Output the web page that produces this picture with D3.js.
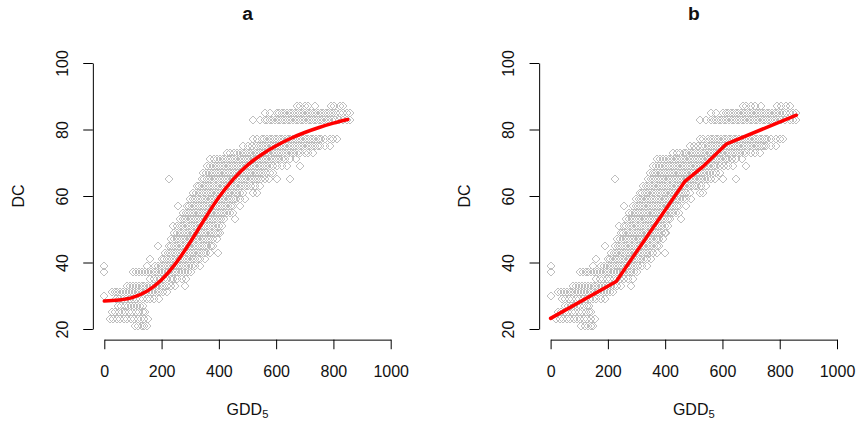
<!DOCTYPE html>
<html>
<head>
<meta charset="utf-8">
<style>
body { margin: 0; background: #fff; }
svg { display: block; font-family: "Liberation Sans", Arial, sans-serif; }
</style>
<script src="https://cdn.jsdelivr.net/npm/d3@7"></script>
</head>
<body>
<svg id="chart" width="859" height="425"></svg>
<script>
// observed DC stages, and the GDD5 values of the observations at each stage
var dcLevels = [87, 85, 83, 77, 75, 73, 71, 69, 67, 65, 63, 61, 59, 57, 55, 53, 51, 49,
                47, 45, 43, 41, 39, 37, 35, 33, 31, 30, 29, 27, 25, 23, 21];
var gddAtLevel = [
  [673, 683, 701, 712, 736, 790, 803, 823, 835],
  [561, 578, 602, 611, 620, 629, 638, 647, 656, 665, 674, 683, 692, 701, 710, 719, 728, 737, 746, 755, 764, 773, 782, 791, 800, 810, 822, 835, 846, 858],
  [520, 544, 560, 569, 578, 587, 596, 605, 614, 623, 632, 641, 650, 659, 668, 677, 686, 695, 704, 713, 722, 731, 740, 749, 758, 767, 776, 785, 795, 806, 820, 835, 848, 858],
  [520, 532, 550, 559, 568, 577, 586, 595, 604, 613, 622, 631, 640, 649, 658, 667, 676, 685, 694, 703, 712, 721, 730, 739, 748, 757, 771, 788, 800, 811],
  [486, 500, 515, 530, 539, 548, 557, 566, 575, 584, 593, 602, 611, 620, 629, 638, 647, 656, 665, 674, 683, 692, 701, 710, 719, 728, 737, 746, 753, 770, 788],
  [427, 440, 452, 465, 474, 483, 492, 501, 510, 519, 528, 537, 546, 555, 564, 573, 582, 591, 600, 609, 618, 627, 636, 645, 654, 663, 672, 683, 700, 712, 730],
  [370, 382, 394, 404, 413, 422, 431, 440, 449, 458, 467, 476, 485, 494, 503, 512, 521, 530, 539, 548, 557, 566, 575, 584, 593, 602, 611, 620, 632, 648, 670],
  [358, 369, 380, 389, 398, 407, 416, 425, 434, 443, 452, 461, 470, 479, 488, 497, 506, 515, 524, 533, 542, 551, 560, 569, 578, 590, 604, 620, 637, 683],
  [346, 356, 366, 375, 384, 393, 402, 411, 420, 429, 438, 447, 456, 465, 474, 483, 492, 501, 510, 519, 528, 537, 546, 555, 566, 578, 590],
  [226, 340, 349, 358, 367, 376, 385, 394, 403, 412, 421, 430, 439, 448, 457, 466, 475, 484, 493, 502, 511, 520, 529, 538, 548, 560, 575, 602, 648],
  [323, 332, 341, 350, 359, 368, 377, 386, 395, 404, 413, 422, 431, 440, 449, 458, 467, 476, 485, 494, 503, 512, 526, 544],
  [311, 320, 329, 338, 347, 356, 365, 374, 383, 392, 401, 410, 419, 428, 437, 446, 455, 464, 473, 485, 520, 532],
  [299, 308, 317, 326, 335, 344, 353, 362, 371, 380, 389, 398, 407, 416, 425, 434, 443, 452, 461, 474, 491],
  [258, 288, 297, 306, 315, 324, 333, 342, 351, 360, 369, 378, 387, 396, 405, 414, 423, 432, 441, 450, 474],
  [275, 284, 293, 302, 311, 320, 329, 338, 347, 356, 365, 374, 383, 392, 401, 410, 419, 428, 438, 450],
  [265, 274, 283, 292, 301, 310, 319, 328, 337, 346, 355, 364, 373, 382, 391, 400, 409, 418, 456],
  [239, 255, 264, 273, 282, 291, 300, 309, 318, 327, 336, 345, 354, 363, 372, 381, 390, 399, 410],
  [245, 254, 263, 272, 281, 290, 299, 308, 317, 326, 335, 344, 353, 362, 371, 380, 389, 398, 404],
  [233, 244, 253, 262, 271, 280, 289, 298, 307, 316, 325, 334, 343, 352, 361, 370, 379, 392],
  [189, 225, 234, 243, 252, 261, 270, 279, 288, 297, 306, 315, 324, 333, 342, 351, 360, 371, 380],
  [212, 221, 230, 239, 248, 257, 266, 275, 284, 293, 302, 311, 320, 329, 338, 347, 356, 370, 398],
  [160, 200, 209, 218, 227, 236, 245, 254, 263, 272, 281, 290, 299, 308, 317, 326, 335, 350],
  [0, 148, 177, 188, 197, 206, 215, 224, 233, 242, 251, 260, 269, 278, 287, 296, 305, 318, 335],
  [0, 101, 112, 122, 132, 142, 152, 162, 172, 182, 192, 202, 212, 222, 232, 242, 252, 262, 272, 282, 292, 303],
  [160, 172, 184, 196, 208, 220, 232, 241, 255, 270, 287],
  [78, 90, 100, 110, 120, 130, 140, 150, 160, 170, 180, 190, 200, 210, 220, 232, 247, 282],
  [26, 36, 46, 56, 66, 76, 86, 96, 106, 116, 126, 136, 146, 156, 166, 176, 186, 196, 206, 218],
  [0],
  [40, 52, 64, 76, 88, 100, 112, 124, 136, 148, 160, 175, 190],
  [49, 60, 71, 82, 93, 104, 115, 126, 135],
  [26, 38, 50, 62, 74, 86, 98, 110, 122, 134, 142],
  [20, 32, 44, 56, 68, 80, 92, 104, 116, 128, 140, 154],
  [107, 119, 130, 140, 148]
];

// fitted curve (panel a) and segmented fit (panel b)
var fitGdd = [0, 50, 100, 150, 200, 250, 300, 350, 400, 450, 500, 550, 600, 650, 700, 750, 800, 850];
var fitDc  = [28.4, 28.7, 29.5, 31.4, 34.8, 39.8, 46.1, 53.0, 59.6, 65.0, 69.3, 72.5, 75.1, 77.3, 79.1, 80.6, 81.9, 83.0];
var segGdd = [0, 229, 468, 534, 615, 858];
var segDc  = [23.2, 34.3, 64.3, 69.0, 75.7, 84.3];

var xTicks = [0, 200, 400, 600, 800, 1000],
    yTicks = [20, 40, 60, 80, 100];

var points = [];
dcLevels.forEach(function(dc, i) {
  gddAtLevel[i].forEach(function(g) { points.push({gdd: g, dc: dc}); });
});

var panels = [
  {title: "a", dx: 0, gdd: fitGdd, dc: fitDc, curve: d3.curveMonotoneX},
  {title: "b", dx: 446.3, gdd: segGdd, dc: segDc, curve: d3.curveLinear}
];

var svg = d3.select("#chart");
var diamond = "M0,-4L4,0L0,4L-4,0Z";

panels.forEach(function(p) {
  var x = d3.scaleLinear().domain([0, 1000]).range([104.3 + p.dx, 390.7 + p.dx]),
      y = d3.scaleLinear().domain([20, 100]).range([329, 63]);
  var axisY = y(16.8), axisX = x(-40);

  var g = svg.append("g");

  g.append("g").selectAll("path")
    .data(points)
    .enter().append("path")
    .attr("d", diamond)
    .attr("transform", function(d) { return "translate(" + Math.round(x(d.gdd)) + "," + Math.round(y(d.dc)) + ")"; })
    .attr("fill", "none")
    .attr("stroke", "#bebebe")
    .attr("stroke-width", 1)
    .attr("shape-rendering", "crispEdges");

  var line = d3.line()
    .x(function(d) { return x(d[0]); })
    .y(function(d) { return y(d[1]); })
    .curve(p.curve);
  g.append("path")
    .datum(p.gdd.map(function(v, i) { return [v, p.dc[i]]; }))
    .attr("d", line)
    .attr("fill", "none")
    .attr("stroke", "#ff0000")
    .attr("stroke-width", 3.5)
    .attr("stroke-linecap", "round")
    .attr("stroke-linejoin", "round");

  // x axis
  var gx = g.append("g")
    .attr("transform", "translate(0," + axisY + ")")
    .call(d3.axisBottom(x).tickValues(xTicks).tickFormat(d3.format("d"))
      .tickSize(9.6).tickSizeOuter(0).tickPadding(16.9));
  // y axis, R style rotated labels
  var gy = g.append("g")
    .attr("transform", "translate(" + axisX + ",0)")
    .call(d3.axisLeft(y).tickValues(yTicks).tickFormat(d3.format("d"))
      .tickSize(9.6).tickSizeOuter(0));
  gy.selectAll(".tick text")
    .attr("x", null).attr("dy", null)
    .attr("text-anchor", "middle")
    .attr("transform", "translate(-24.8,0) rotate(-90)");

  [gx, gy].forEach(function(a) {
    a.select(".domain").attr("stroke", "#000");
    a.selectAll(".tick line").attr("stroke", "#000");
    a.selectAll(".tick text").attr("fill", "#111").style("font-size", "16px")
      .style("font-family", "'Liberation Sans', Arial, sans-serif");
  });

  var cx = (x(-40) + x(1040)) / 2;
  g.append("text")
    .attr("x", cx).attr("y", 20)
    .attr("text-anchor", "middle")
    .style("font-size", "19.2px").style("font-weight", "bold")
    .attr("fill", "#111")
    .text(p.title);

  var xl = g.append("text")
    .attr("x", x(500)).attr("y", 415)
    .attr("text-anchor", "middle")
    .style("font-size", "16px")
    .attr("fill", "#111");
  xl.append("tspan").text("GDD");
  xl.append("tspan").attr("dy", 3).style("font-size", "11.2px").text("5");

  g.append("text")
    .attr("transform", "translate(" + (24 + p.dx) + "," + y(60) + ") rotate(-90)")
    .attr("text-anchor", "middle")
    .style("font-size", "16px")
    .attr("fill", "#111")
    .text("DC");
});
</script>
</body>
</html>
